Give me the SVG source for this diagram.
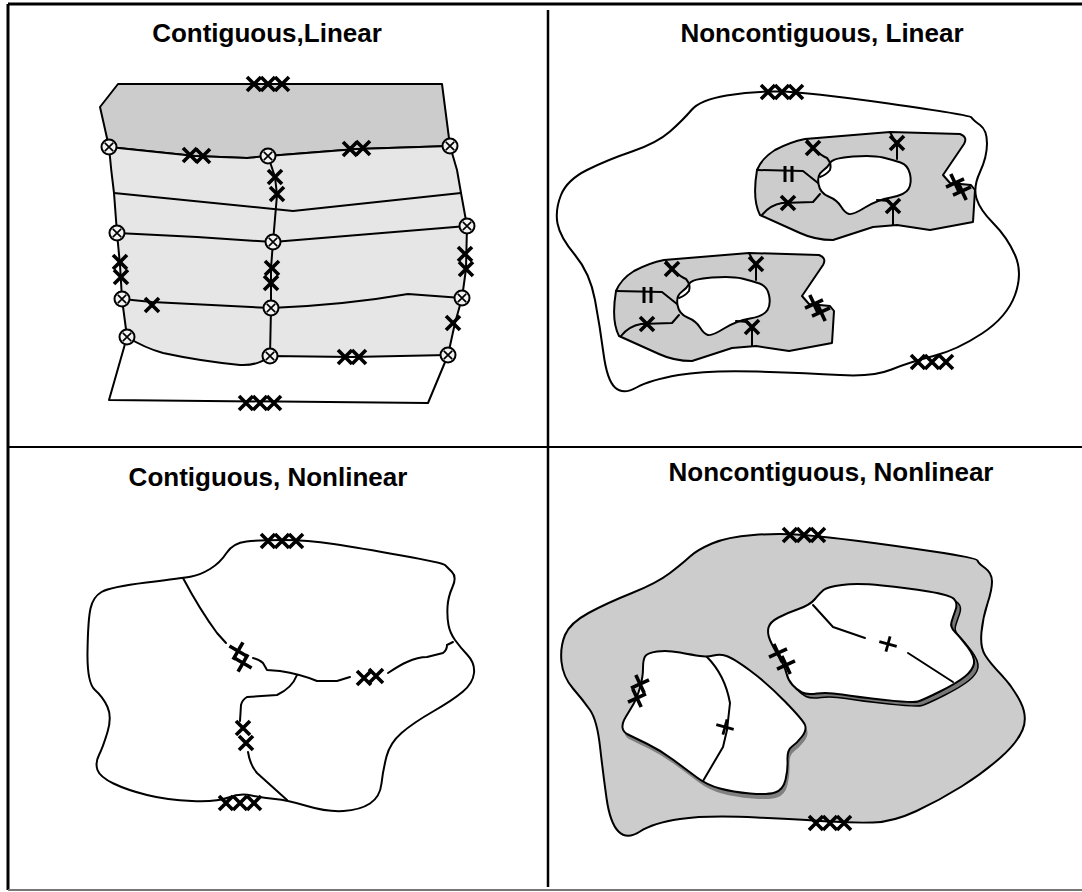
<svg xmlns="http://www.w3.org/2000/svg" xmlns:xlink="http://www.w3.org/1999/xlink" width="1082" height="892" viewBox="0 0 1082 892">
<style>
.ln{fill:none;stroke:#000;stroke-width:2;stroke-linejoin:round;stroke-linecap:round}
.sh{stroke:#000;stroke-width:2;stroke-linejoin:round;stroke-linecap:round}
.g1{fill:#cccccc}
.g2{fill:#e6e6e6}
.wh{fill:#ffffff}
.ttl{font-family:"Liberation Sans",Arial,sans-serif;font-weight:bold;font-size:26px;text-anchor:middle;fill:#000}
</style>
<defs>
<path id="x" d="M-7,-7 L7,7 M7,-7 L-7,7" fill="none" stroke="#000" stroke-width="3.6"/>
<path id="plus" d="M-9,0 L9,0 M0,-8 L0,8" fill="none" stroke="#000" stroke-width="2.8"/>
<g id="ox"><circle r="7.5" fill="#f2f2f2" stroke="#000" stroke-width="2"/><path d="M-4.2,-4.2 L4.2,4.2 M4.2,-4.2 L-4.2,4.2" fill="none" stroke="#000" stroke-width="1.7"/></g>
<path id="lholeShape" d="M645,656.5 Q647,653 657,651.5 Q667,650 680,652.5 Q693,655 700,656 Q707,657 713.5,655.5 Q720,654 726.5,656 Q733,658 750,670.5 Q767,683 785,701.5 Q803,720 805,725 Q807,730 802,736.5 Q797,743 792,746.5 Q787,750 787.5,760 Q788,770 785.5,780 Q783,790 775,792.5 Q767,795 750,793.5 Q733,792 720,788.5 Q707,785 697,777.5 Q687,770 673.5,760 Q660,750 646.5,743.5 Q633,737 628,734.5 Q623,732 622.5,727.5 Q622,723 626,716.5 Q630,710 633.5,704 Q637,698 640,687.5 Q643,677 643,668.5 Q643,660 645,656.5 Z"/>
<path id="rholeShape" d="M823.5,590 Q827,587 842,585 Q857,583 882,585.5 Q907,588 928.5,591.5 Q950,595 954,599 Q958,603 955.5,610 Q953,617 951.5,622 Q950,627 955,632 Q960,637 967.5,647 Q975,657 974,663.5 Q973,670 965,676.5 Q957,683 940,691.5 Q923,700 918,701.5 Q913,703 885,700 Q857,697 842,694.5 Q827,692 817,693.5 Q807,695 802,692.5 Q797,690 792.5,685 Q788,680 786.5,673.5 Q785,667 779,657 Q773,647 770,640 Q767,633 768.5,627.5 Q770,622 778.5,617.5 Q787,613 798.5,609 Q810,605 815,599 Q820,593 823.5,590 Z"/>
</defs>
<rect width="1082" height="892" fill="#fff"/>

<g id="frame">
<path d="M8,4 L1082,4" stroke="#000" stroke-width="3"/>
<path d="M8,4 L8,890" stroke="#000" stroke-width="3"/>
<path d="M8,890 L1082,890" stroke="#777" stroke-width="2"/>
<path d="M548,10 L548,887" stroke="#000" stroke-width="2.5"/>
<path d="M9,447 L1082,447" stroke="#000" stroke-width="2"/>
</g>

<g id="titles">
<text class="ttl" x="267" y="42">Contiguous,Linear</text>
<text class="ttl" x="822" y="42">Noncontiguous, Linear</text>
<text class="ttl" x="268" y="486">Contiguous, Nonlinear</text>
<text class="ttl" x="831" y="481">Noncontiguous, Nonlinear</text>
</g>

<g id="q1-contiguous-linear">
<path class="sh g1" d="M118,84 L100,107 L109,147 L195,156 L247,158 L268,156 L357,149 L450,146 L442,84 Z"/>
<path class="g2" d="M109,147 L195,156 L247,158 L268,156 L357,149 L450,146 L457,170 L461,193 L467,226 L466,269 L462,298 L455,323 L448,355 L352,357 L270,356 Q258,366 240,365 Q200,361 163,353 L127,337 L122,299 L120,265 L117,233 L114,193 Q111,170 109,147 Z"/>
<path class="ln" d="M109,147 L195,156 L247,158 L268,156 L357,149 L450,146"/>
<path class="ln" d="M127,337 L109,400 L428,403 L448,355"/>
<path class="ln" d="M109,147 Q111,170 114,193 L117,233 L120,265 L122,299 L127,337"/>
<path class="ln" d="M450,146 L457,170 L461,193 L467,226 L466,269 L462,298 L455,323 L448,355"/>
<path class="ln" d="M268,156 L275,177 L277,195 L273,242 L271,268 L271,283 L271,308 L270,356"/>
<path class="ln" d="M114,193 L293,211 L461,193"/>
<path class="ln" d="M117,233 L197,237 L273,242 L467,226"/>
<path class="ln" d="M122,299 L152,302 L271,308 Q345,305 408,294 L462,298"/>
<path class="ln" d="M127,337 Q145,348 163,353 Q200,361 240,365 Q258,366 270,356 L352,357 L448,355"/>
<use xlink:href="#x" x="254" y="84"/><use xlink:href="#x" x="268" y="84"/><use xlink:href="#x" x="282" y="84"/>
<use xlink:href="#x" x="246" y="403"/><use xlink:href="#x" x="260" y="403"/><use xlink:href="#x" x="274" y="403"/>
<use xlink:href="#x" x="190" y="155"/><use xlink:href="#x" x="203" y="156"/>
<use xlink:href="#x" x="350" y="149"/><use xlink:href="#x" x="363" y="148"/>
<use xlink:href="#x" x="275" y="177"/><use xlink:href="#x" x="277" y="194"/>
<use xlink:href="#x" x="272" y="268"/><use xlink:href="#x" x="271" y="283"/>
<use xlink:href="#x" x="120" y="262"/><use xlink:href="#x" x="121" y="277"/>
<use xlink:href="#x" x="465" y="254"/><use xlink:href="#x" x="466" y="269"/>
<use xlink:href="#x" x="152" y="305"/>
<use xlink:href="#x" x="453" y="323"/>
<use xlink:href="#x" x="345" y="357"/><use xlink:href="#x" x="359" y="357"/>
<use xlink:href="#ox" x="109" y="147"/><use xlink:href="#ox" x="268" y="156"/><use xlink:href="#ox" x="450" y="146"/>
<use xlink:href="#ox" x="117" y="233"/><use xlink:href="#ox" x="273" y="242"/><use xlink:href="#ox" x="467" y="226"/>
<use xlink:href="#ox" x="122" y="299"/><use xlink:href="#ox" x="271" y="308"/><use xlink:href="#ox" x="462" y="298"/>
<use xlink:href="#ox" x="127" y="337"/><use xlink:href="#ox" x="270" y="356"/><use xlink:href="#ox" x="448" y="355"/>
</g>

<g id="q2-outer">
<path class="ln" d="M780,91.5 Q753,91 726.5,95.5 Q700,100 691.5,110 Q683,120 670,131.5 Q657,143 632,151.5 Q607,160 587,170 Q567,180 561,195 Q555,210 557.5,223.5 Q560,237 575,255 Q590,273 595,300 Q600,327 603.5,353.5 Q607,380 615,387.5 Q623,395 636.5,387.5 Q650,380 678.5,375 Q707,370 757,371.5 Q807,373 840,375 Q873,377 891.5,369.5 Q910,362 933.5,356 Q957,350 982,333.5 Q1007,317 1015,295 Q1023,273 1015,255 Q1007,237 993.5,223.5 Q980,210 976.5,198.5 Q973,187 980,172 Q987,157 987,143.5 Q987,130 980,125 Q973,120 971.5,117.5 Q970,115 888.5,103.5 Q807,92 780,91.5 Z"/>
<use xlink:href="#x" x="768" y="92"/><use xlink:href="#x" x="782" y="92"/><use xlink:href="#x" x="796" y="92"/>
<use xlink:href="#x" x="918" y="362"/><use xlink:href="#x" x="932" y="362"/><use xlink:href="#x" x="946" y="362"/>
</g>

<g id="q2-region-upper">
<path class="sh g1" d="M757,170 Q762,158 775,150 Q790,142 805,139 L890,132 L960,134 Q968,137 964,144 L943,175 L950,183 L971,185 L975,190 L973,222 L930,230 L897,225 L873,227 L833,240 Q815,240 800,233 L760,215 Q752,200 757,170 Z"/>
<path class="sh wh" d="M830.5,162.5 Q833,158 853,156.5 Q873,155 883,157.5 Q893,160 900.5,162.5 Q908,165 910,174 Q912,183 908.5,189 Q905,195 891,197.5 Q877,200 865,207.5 Q853,215 849,214 Q845,213 841,206.5 Q837,200 828.5,196.5 Q820,193 818.5,184 Q817,175 822.5,171 Q828,167 830.5,162.5 Z"/>
<path class="ln" d="M757,170 L803,171 L818,183"/>
<path class="ln" d="M807,140 Q812,146 815,150 Q822,156 827,158 Q832,164 830,170 Q826,175 820,177"/>
<path class="ln" d="M762,215 Q770,205 782,203 L813,202 L820,194"/>
<path class="ln" d="M890,132 L897,145 L897,159"/>
<path class="ln" d="M877,200 L889,201 L893,207 L893,225"/>
<path d="M785,166 L785,182 M792,166 L792,182" stroke="#000" stroke-width="3"/>
<use xlink:href="#x" x="813" y="148"/>
<use xlink:href="#x" x="788" y="203"/>
<use xlink:href="#x" x="897" y="143"/>
<use xlink:href="#x" x="893" y="206"/>
<use xlink:href="#x" transform="translate(955,183) rotate(20)"/>
<use xlink:href="#x" transform="translate(962,191) rotate(20)"/>
</g>

<g id="q2-region-lower">
<use xlink:href="#q2-region-upper" transform="translate(-141,121)"/>
</g>

<g id="q3-contiguous-nonlinear">
<path class="ln" d="M283.5,540 Q260,540 246.5,541.5 Q233,543 226.5,553 Q220,563 210,569 Q200,575 191.5,576.5 Q183,578 146.5,582.5 Q110,587 101.5,592 Q93,597 90.5,608.5 Q88,620 87.5,651.5 Q87,683 95,690 Q103,697 107.5,707 Q112,717 107.5,732 Q103,747 99,755 Q95,763 97.5,770 Q100,777 113.5,783.5 Q127,790 147,795 Q167,800 192,801 Q217,802 228.5,797.5 Q240,793 251.5,795.5 Q263,798 275,799 Q287,800 307,806 Q327,812 343.5,811 Q360,810 370,803.5 Q380,797 381.5,783.5 Q383,770 386.5,756.5 Q390,743 401.5,733 Q413,723 433,711.5 Q453,700 463,691.5 Q473,683 474,673 Q475,663 467.5,655 Q460,647 455,640 Q450,633 448.5,625 Q447,617 447.5,607 Q448,597 452.5,587 Q457,577 452,572 Q447,567 445,565 Q443,563 401.5,555.5 Q360,548 333.5,544 Q307,540 283.5,540 Z"/>
<path class="ln" d="M183,578 Q200,610 217,633 L226,643"/>
<path class="ln" d="M253,658 Q260,660 263,663 L267,670 L280,671 Q300,674 317,681 L337,681 L350,677"/>
<path class="ln" d="M388,673 Q400,665 407,662 Q418,657 427,657 L443,653 Q447,650 447,645 L453,642"/>
<path class="ln" d="M297,675 Q292,688 277,695 L247,697 Q242,700 241,705 L240,721"/>
<path class="ln" d="M248,752 Q250,765 257,773 L287,800"/>
<use xlink:href="#x" transform="translate(238,651) rotate(-15)"/>
<use xlink:href="#x" transform="translate(243,663) rotate(-15)"/>
<use xlink:href="#x" x="364" y="678"/><use xlink:href="#x" x="376" y="676"/>
<use xlink:href="#x" x="243" y="728"/><use xlink:href="#x" x="246" y="743"/>
<use xlink:href="#x" x="268" y="541"/><use xlink:href="#x" x="282" y="541"/><use xlink:href="#x" x="296" y="541"/>
<use xlink:href="#x" x="226" y="803"/><use xlink:href="#x" x="240" y="803"/><use xlink:href="#x" x="254" y="803"/>
</g>

<g id="q4-noncontiguous-nonlinear">
<path class="sh g1" d="M803.5,535 Q780,533 753.5,535 Q727,537 712,543.5 Q697,550 690,556.5 Q683,563 670,573 Q657,583 632,593 Q607,603 588.5,613 Q570,623 565,635 Q560,647 561.5,662 Q563,677 573,688.5 Q583,700 590,710 Q597,720 600,746.5 Q603,773 606.5,798 Q610,823 618.5,831.5 Q627,840 640,831.5 Q653,823 680,819 Q707,815 757,817.5 Q807,820 830,821.5 Q853,823 873,822.5 Q893,822 916.5,811 Q940,800 961.5,786.5 Q983,773 1000,758 Q1017,743 1022.5,730 Q1028,717 1020.5,702 Q1013,687 1001.5,675 Q990,663 985,655 Q980,647 981.5,632 Q983,617 987.5,603.5 Q992,590 992,581.5 Q992,573 985,568 Q978,563 977.5,560.5 Q977,558 933.5,551.5 Q890,545 858.5,541 Q827,537 803.5,535 Z"/>
<use xlink:href="#x" x="790" y="535"/><use xlink:href="#x" x="804" y="535"/><use xlink:href="#x" x="818" y="535"/>
<use xlink:href="#x" x="816" y="823"/><use xlink:href="#x" x="830" y="823"/><use xlink:href="#x" x="844" y="823"/>
</g>

<g id="q4-region-left">
<use xlink:href="#lholeShape" transform="translate(2,5)" fill="#808080" stroke="none"/>
<use xlink:href="#lholeShape" fill="#fff" stroke="#000" stroke-width="2" stroke-linejoin="round"/>
<path class="ln" d="M707,657 Q725,675 730,703 L727,730 L723,747 L703,781"/>
<use xlink:href="#plus" transform="translate(725,727) rotate(15)"/>
<use xlink:href="#x" transform="translate(640,684) rotate(20)"/>
<use xlink:href="#x" transform="translate(637,698) rotate(20)"/>
</g>

<g id="q4-region-right">
<use xlink:href="#rholeShape" transform="translate(4,4)" fill="#777" stroke="#000" stroke-width="1.5" stroke-linejoin="round"/>
<use xlink:href="#rholeShape" fill="#fff" stroke="#000" stroke-width="2" stroke-linejoin="round"/>
<path class="ln" d="M813,605 L833,627 L865,638"/>
<path class="ln" d="M908,653 L953,682"/>
<use xlink:href="#plus" transform="translate(888,644) rotate(15)"/>
<use xlink:href="#x" transform="translate(778,653) rotate(20)"/>
<use xlink:href="#x" transform="translate(786,665) rotate(20)"/>
</g>
</svg>
